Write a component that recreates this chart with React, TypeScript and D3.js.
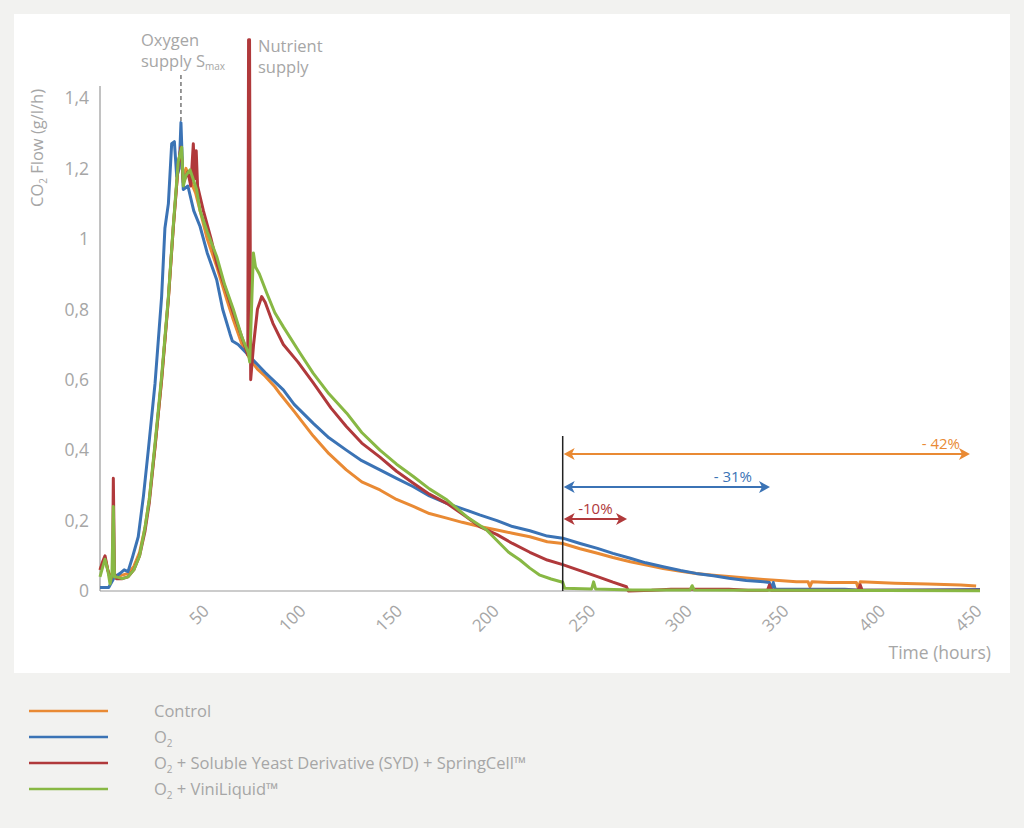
import React from "react";
import * as d3 from "d3";

type Pt = [number, number];

// hours, CO2 flow (g/l/h)
const control: Pt[] = [
  [-5.5, 0.06], [-4, 0.08], [-2.9, 0.095], [-1.5, 0.06], [0, 0.04], [1, 0.05], [3, 0.04], [6, 0.045],
  [9, 0.05], [12, 0.07], [15, 0.11], [17.8, 0.18], [20, 0.26], [23, 0.41], [26.4, 0.6], [29.9, 0.83],
  [32.4, 1.03], [35, 1.21], [36.4, 1.26], [37.5, 1.17], [39, 1.2], [41, 1.17], [44, 1.13], [46.3, 1.08],
  [50, 1.0], [55, 0.92], [60, 0.83], [63.5, 0.77], [68, 0.7], [72, 0.66], [76, 0.63], [80, 0.61],
  [85, 0.58], [87.7, 0.56], [95, 0.51], [104.9, 0.44], [113, 0.39], [122, 0.344], [130, 0.31],
  [139.4, 0.287], [148, 0.26], [156.7, 0.24], [165, 0.22], [174, 0.207], [182, 0.195], [191, 0.183],
  [200, 0.173], [208, 0.164], [217, 0.154], [226, 0.14], [234, 0.135], [243, 0.12], [252, 0.107],
  [260, 0.095], [269, 0.083], [278, 0.073], [286, 0.064], [295, 0.056], [303, 0.05], [312, 0.045],
  [320, 0.041], [329, 0.037], [338, 0.033], [346, 0.03], [355, 0.026], [361, 0.026], [362, 0.012],
  [363, 0.026], [372, 0.024], [386, 0.024], [387, 0.008], [388, 0.026], [406, 0.022], [423, 0.02],
  [440, 0.017], [448, 0.014],
];

const oxygen: Pt[] = [
  [-5.5, 0.01], [-1, 0.01], [0, 0.02], [2, 0.04], [4.9, 0.05], [7, 0.06], [9, 0.055], [11, 0.09],
  [14.3, 0.154], [17, 0.27], [19.5, 0.4], [23, 0.59], [26.4, 0.836], [28.1, 1.03], [29.9, 1.1],
  [31.6, 1.27], [33, 1.276], [34.2, 1.177], [35.5, 1.2], [36.4, 1.33], [37.6, 1.14], [40, 1.15],
  [43, 1.08], [46.3, 1.035], [50, 0.96], [54.9, 0.884], [58, 0.8], [61.8, 0.73], [63, 0.71], [66, 0.7],
  [72, 0.666], [80, 0.62], [89.4, 0.571], [95, 0.53], [104.9, 0.476], [113, 0.435], [122, 0.4],
  [130, 0.37], [139.4, 0.344], [148, 0.32], [156.7, 0.296], [165, 0.27], [174, 0.249], [183, 0.232],
  [191, 0.216], [200, 0.2], [208, 0.183], [217, 0.171], [226, 0.156], [234, 0.15], [243, 0.135],
  [252, 0.121], [260, 0.107], [269, 0.093], [277, 0.08], [286, 0.069], [295, 0.058], [303, 0.05],
  [312, 0.043], [320, 0.036], [329, 0.03], [338, 0.026], [341, 0.024], [342, 0.005], [343, 0.024],
  [344, 0.005], [380, 0.005], [388, 0.002], [420, 0.003], [450, 0.004],
];

const springCell: Pt[] = [
  [-5.5, 0.06], [-4, 0.085], [-2.9, 0.1], [-1.5, 0.06], [0, 0.03], [1, 0.05], [1.4, 0.32], [2, 0.05],
  [3, 0.035], [6, 0.035], [9, 0.04], [12, 0.06], [15, 0.1], [17.8, 0.17], [20, 0.25], [23, 0.41],
  [26.4, 0.6], [29.9, 0.83], [32.4, 1.03], [35, 1.21], [36.4, 1.26], [37.6, 1.16], [40, 1.19],
  [41.5, 1.15], [42.8, 1.27], [43.5, 1.17], [44.3, 1.25], [45, 1.15], [48, 1.08], [52, 1.0],
  [55, 0.93], [60, 0.85], [63.5, 0.79], [68, 0.72], [71, 0.67], [71.4, 1.565], [71.9, 1.565],
  [72.5, 0.6], [74, 0.7], [76, 0.8], [78.2, 0.836], [80, 0.82], [84, 0.76], [89.4, 0.7], [97, 0.65],
  [105, 0.59], [114, 0.52], [122, 0.467], [130, 0.42], [139.4, 0.38], [148, 0.34], [156.7, 0.306],
  [165, 0.275], [174, 0.249], [183, 0.215], [191, 0.183], [200, 0.16], [208, 0.135], [217, 0.11],
  [226, 0.088], [234, 0.075], [243, 0.058], [252, 0.041], [260, 0.025], [267, 0.012], [268, 0.0],
  [280, 0.002], [290, 0.005], [320, 0.005], [330, 0.002], [340, 0.002], [341, 0.017], [342, 0.002],
  [387, 0.002], [388, 0.017], [389, 0.002], [450, 0.002],
];

const viniLiquid: Pt[] = [
  [-5.5, 0.04], [-4, 0.07], [-2.9, 0.09], [-1.5, 0.06], [-0.3, 0.02], [0.7, 0.05], [1.4, 0.24],
  [2, 0.04], [3, 0.04], [6, 0.035], [9, 0.04], [12, 0.06], [15, 0.1], [17.8, 0.18], [20, 0.26],
  [23, 0.42], [26.4, 0.61], [29.9, 0.836], [32.4, 1.035], [35, 1.22], [36.8, 1.26], [37.6, 1.15],
  [39, 1.18], [41.1, 1.196], [44.5, 1.14], [46.3, 1.08], [50, 1.02], [54.9, 0.95], [59, 0.87],
  [63.5, 0.8], [68, 0.72], [71.3, 0.676], [72, 0.65], [73.9, 0.96], [75, 0.92], [77, 0.9],
  [80.8, 0.846], [85, 0.79], [89.4, 0.75], [98, 0.676], [104.9, 0.618], [113, 0.56], [122.2, 0.505],
  [130, 0.45], [139.4, 0.4], [148, 0.36], [156.7, 0.325], [165, 0.29], [174, 0.259], [184.3, 0.211],
  [194.7, 0.173], [201.5, 0.135], [206, 0.11], [211.9, 0.088], [217, 0.065], [222.2, 0.045],
  [228, 0.034], [234, 0.025], [235, 0.008], [249, 0.006], [250, 0.026], [251, 0.006], [270, 0.003],
  [300, 0.003], [301, 0.015], [302, 0.003], [350, 0.002], [450, 0.001],
];

const seriesNames = ["Control", "O2", "O2 + Soluble Yeast Derivative (SYD) + SpringCell™", "O2 + ViniLiquid™"];
const seriesData = [control, oxygen, springCell, viniLiquid];
const seriesColors = ["#e98a34", "#3b73b5", "#b0393b", "#88b844"];

const yTicks = [0, 0.2, 0.4, 0.6, 0.8, 1, 1.2, 1.4];
const xTicks = [50, 100, 150, 200, 250, 300, 350, 400, 450];

// reduction arrows: start hour, end hour, level, label
const reductionStart = 234;
const arrowEnds = [444.8, 341.3, 267.3];
const arrowLevels = [0.389, 0.295, 0.2045];
const arrowLabels = ["- 42%", "- 31%", "-10%"];
const oxygenSupplyAt = 36.4;

const W = 1024;
const H = 828;
const grey = "#a6a6a6";
const font = "'Open Sans', 'Noto Sans', sans-serif";

export default function App() {
  const x = d3.scaleLinear().domain([-5.5, 450]).range([100, 980]);
  const y = d3.scaleLinear().domain([0, 1.434]).range([591, 86]);
  const line = d3
    .line<Pt>()
    .x((d) => x(d[0]))
    .y((d) => y(d[1]));
  const fmt = (v: number) => String(v).replace(".", ",");

  const arrowHead = (px: number, py: number, dir: number) =>
    `M${px},${py} L${px - dir * 11},${py - 6} L${px - dir * 8},${py} L${px - dir * 11},${py + 6} Z`;

  return (
    <div style={{ position: "absolute", left: 0, top: 0 }}>
      <svg width={W} height={H} style={{ display: "block", fontFamily: font }}>
        <rect width={W} height={H} fill="#f2f2f0" />
        <rect x={14} y={14} width={996} height={659} fill="#ffffff" />

        {/* axes */}
        <line x1={x(-5.5)} x2={x(-5.5)} y1={y(1.434)} y2={y(0)} stroke="#999" strokeWidth={1.2} />
        <line x1={x(-5.5)} x2={x(450)} y1={y(0)} y2={y(0)} stroke="#999" strokeWidth={1.2} />
        {yTicks.map((t) => (
          <text key={t} x={89} y={y(t)} dy="0.36em" textAnchor="end" fontSize={17.5} fill={grey}>
            {fmt(t)}
          </text>
        ))}
        {xTicks.map((t) => (
          <text
            key={t}
            transform={`translate(${x(t) + 3},${612}) rotate(-45)`}
            textAnchor="end"
            fontSize={17}
            fill={grey}
          >
            {t}
          </text>
        ))}
        <text x={991} y={659} textAnchor="end" fontSize={17.5} fill={grey}>
          Time (hours)
        </text>
        <text transform="translate(43,148) rotate(-90)" textAnchor="middle" fontSize={16.5} fill={grey}>
          CO<tspan fontSize={10} dy={4}>2</tspan>
          <tspan dy={-4}> Flow (g/l/h)</tspan>
        </text>

        {/* series */}
        {seriesData.map((d, i) => (
          <path
            key={i}
            d={line(d) || ""}
            fill="none"
            stroke={seriesColors[i]}
            strokeWidth={3}
            strokeLinejoin="round"
          />
        ))}

        {/* oxygen supply marker */}
        <line
          x1={x(oxygenSupplyAt)}
          x2={x(oxygenSupplyAt)}
          y1={75}
          y2={y(1.33)}
          stroke="#555"
          strokeWidth={1.2}
          strokeDasharray="4,3"
        />
        <text x={141} y={46} fontSize={16.5} fill={grey}>
          Oxygen
        </text>
        <text x={141} y={67} fontSize={16.5} fill={grey}>
          supply S<tspan fontSize={10} dy={3}>max</tspan>
        </text>
        <text x={258} y={52} fontSize={16.5} fill={grey}>
          Nutrient
        </text>
        <text x={258} y={73} fontSize={16.5} fill={grey}>
          supply
        </text>

        {/* reduction arrows */}
        <line x1={x(reductionStart)} x2={x(reductionStart)} y1={436} y2={y(0)} stroke="#222" strokeWidth={1.5} />
        {arrowEnds.map((e, i) => {
          const c = seriesColors[i];
          const ay = y(arrowLevels[i]);
          const x0 = x(reductionStart) + 1;
          const x1 = x(e);
          return (
            <g key={i}>
              <line x1={x0 + 6} x2={x1 - 6} y1={ay} y2={ay} stroke={c} strokeWidth={2} />
              <path d={arrowHead(x0, ay, -1)} fill={c} />
              <path d={arrowHead(x1, ay, 1)} fill={c} />
              <text
                x={i === 0 ? x1 - 10 : i === 1 ? x1 - 18 : (x0 + x1) / 2}
                y={ay - 5}
                textAnchor={i === 2 ? "middle" : "end"}
                fontSize={15}
                fill={c}
              >
                {arrowLabels[i]}
              </text>
            </g>
          );
        })}

        {/* legend */}
        {seriesNames.map((name, i) => {
          const ly = 711 + i * 26;
          const isO2 = name.startsWith("O2");
          return (
            <g key={name}>
              <line x1={29} x2={108} y1={ly} y2={ly} stroke={seriesColors[i]} strokeWidth={2.5} />
              <text x={154} y={ly + 6} fontSize={16.5} fill={grey}>
                {isO2 ? (
                  <>
                    O<tspan fontSize={10} dy={4}>2</tspan>
                    <tspan dy={-4}>{name.slice(2)}</tspan>
                  </>
                ) : (
                  name
                )}
              </text>
            </g>
          );
        })}
      </svg>
    </div>
  );
}
